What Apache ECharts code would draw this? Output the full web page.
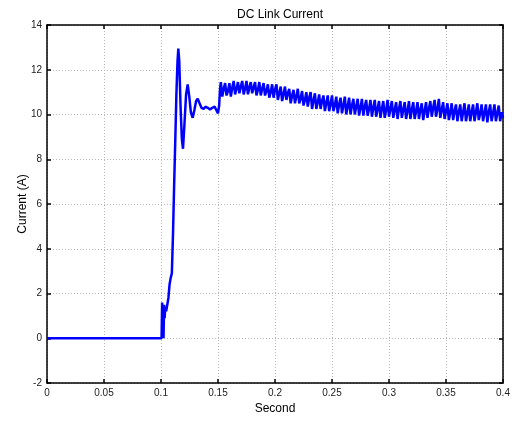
<!DOCTYPE html>
<html>
<head>
<meta charset="utf-8">
<script src="https://cdn.jsdelivr.net/npm/echarts@6/dist/echarts.min.js"></script>
<style>
  html, body { margin: 0; padding: 0; background: #fff; }
  #chart { width: 513px; height: 422px; }
</style>
</head>
<body>
<div id="chart"></div>
<script>
// Start-up transient of the DC link current (time in s, current in A)
const transientTime = [
  0, 0.1005, 0.1010, 0.1014, 0.1018, 0.1022, 0.1027, 0.1032, 0.1037, 0.1045,
  0.1055, 0.1065, 0.1075, 0.1085, 0.1095, 0.1105, 0.1115, 0.1125, 0.1135, 0.1145,
  0.1152, 0.1160, 0.1172, 0.1183, 0.1193, 0.1205, 0.1220, 0.1234, 0.1248, 0.1262,
  0.1278, 0.1293, 0.1308, 0.1322, 0.1338, 0.1355, 0.1374, 0.1390, 0.1410, 0.1430,
  0.1450, 0.1470, 0.1485, 0.1500, 0.1510, 0.1518
];
const transientCurrent = [
  0, 0, 1.6, 0.2, 1.3, 0.0, 1.5, 0.9, 1.4, 1.2,
  1.5, 1.8, 2.4, 2.7, 2.9, 4.6, 6.8, 8.8, 10.9, 12.4,
  12.95, 12.4, 10.3, 8.9, 8.47, 9.5, 10.9, 11.34, 10.8, 10.1,
  9.85, 10.2, 10.6, 10.7, 10.5, 10.3, 10.25, 10.35, 10.3, 10.22,
  10.3, 10.35, 10.2, 10.05, 10.4, 11.15
];

// Steady operation with switching ripple, one row per 10 ms
const rippleTime = [
  0.15250, 0.15375, 0.15500, 0.15625, 0.15750, 0.15875, 0.16000, 0.16125,
  0.16250, 0.16375, 0.16500, 0.16625, 0.16750, 0.16875, 0.17000, 0.17125,
  0.17250, 0.17375, 0.17500, 0.17625, 0.17750, 0.17875, 0.18000, 0.18125,
  0.18250, 0.18375, 0.18500, 0.18625, 0.18750, 0.18875, 0.19000, 0.19125,
  0.19250, 0.19375, 0.19500, 0.19625, 0.19750, 0.19875, 0.20000, 0.20125,
  0.20250, 0.20375, 0.20500, 0.20625, 0.20750, 0.20875, 0.21000, 0.21125,
  0.21250, 0.21375, 0.21500, 0.21625, 0.21750, 0.21875, 0.22000, 0.22125,
  0.22250, 0.22375, 0.22500, 0.22625, 0.22750, 0.22875, 0.23000, 0.23125,
  0.23250, 0.23375, 0.23500, 0.23625, 0.23750, 0.23875, 0.24000, 0.24125,
  0.24250, 0.24375, 0.24500, 0.24625, 0.24750, 0.24875, 0.25000, 0.25125,
  0.25250, 0.25375, 0.25500, 0.25625, 0.25750, 0.25875, 0.26000, 0.26125,
  0.26250, 0.26375, 0.26500, 0.26625, 0.26750, 0.26875, 0.27000, 0.27125,
  0.27250, 0.27375, 0.27500, 0.27625, 0.27750, 0.27875, 0.28000, 0.28125,
  0.28250, 0.28375, 0.28500, 0.28625, 0.28750, 0.28875, 0.29000, 0.29125,
  0.29250, 0.29375, 0.29500, 0.29625, 0.29750, 0.29875, 0.30000, 0.30125,
  0.30250, 0.30375, 0.30500, 0.30625, 0.30750, 0.30875, 0.31000, 0.31125,
  0.31250, 0.31375, 0.31500, 0.31625, 0.31750, 0.31875, 0.32000, 0.32125,
  0.32250, 0.32375, 0.32500, 0.32625, 0.32750, 0.32875, 0.33000, 0.33125,
  0.33250, 0.33375, 0.33500, 0.33625, 0.33750, 0.33875, 0.34000, 0.34125,
  0.34250, 0.34375, 0.34500, 0.34625, 0.34750, 0.34875, 0.35000, 0.35125,
  0.35250, 0.35375, 0.35500, 0.35625, 0.35750, 0.35875, 0.36000, 0.36125,
  0.36250, 0.36375, 0.36500, 0.36625, 0.36750, 0.36875, 0.37000, 0.37125,
  0.37250, 0.37375, 0.37500, 0.37625, 0.37750, 0.37875, 0.38000, 0.38125,
  0.38250, 0.38375, 0.38500, 0.38625, 0.38750, 0.38875, 0.39000, 0.39125,
  0.39250, 0.39375, 0.39500, 0.39625, 0.39750, 0.39875, 0.40000
];
const rippleCurrent = [
  11.45, 10.80, 11.15, 11.40, 10.85, 11.05, 11.40, 10.80,
  11.20, 11.50, 10.90, 11.15, 11.45, 10.95, 11.25, 11.50,
  10.90, 11.15, 11.50, 10.90, 11.20, 11.45, 10.95, 11.20,
  11.45, 10.85, 11.10, 11.45, 10.85, 11.15, 11.40, 10.85,
  11.05, 11.35, 10.75, 11.00, 11.35, 10.75, 11.10, 11.35,
  10.65, 10.95, 11.25, 10.60, 10.90, 11.25, 10.65, 10.95,
  11.15, 10.50, 10.85, 11.10, 10.50, 10.80, 11.15, 10.50,
  10.70, 11.05, 10.40, 10.65, 11.00, 10.35, 10.75, 11.00,
  10.25, 10.60, 10.95, 10.25, 10.55, 10.90, 10.25, 10.60,
  10.85, 10.15, 10.50, 10.85, 10.15, 10.45, 10.85, 10.15,
  10.40, 10.80, 10.05, 10.45, 10.75, 10.05, 10.40, 10.80,
  10.00, 10.35, 10.75, 10.00, 10.40, 10.70, 10.00, 10.35,
  10.70, 9.95, 10.30, 10.70, 9.95, 10.35, 10.65, 9.95,
  10.25, 10.65, 9.90, 10.30, 10.65, 9.90, 10.25, 10.60,
  9.85, 10.25, 10.60, 9.85, 10.20, 10.65, 9.90, 10.25,
  10.60, 9.85, 10.20, 10.55, 9.80, 10.25, 10.60, 9.85,
  10.20, 10.55, 9.80, 10.15, 10.60, 9.80, 10.20, 10.55,
  9.80, 10.15, 10.55, 9.80, 10.20, 10.50, 9.75, 10.15,
  10.55, 9.85, 10.25, 10.60, 9.90, 10.30, 10.65, 9.90,
  10.25, 10.70, 9.85, 10.20, 10.55, 9.80, 10.15, 10.50,
  9.75, 10.10, 10.50, 9.75, 10.15, 10.45, 9.70, 10.10,
  10.45, 9.70, 10.10, 10.50, 9.70, 10.05, 10.45, 9.70,
  10.10, 10.45, 9.70, 10.10, 10.50, 9.75, 10.05, 10.45,
  9.70, 10.05, 10.45, 9.65, 10.10, 10.45, 9.70, 10.05,
  10.45, 9.70, 10.05, 10.40, 9.70, 10.10, 9.85
];

const xTickValues = [0, 0.05, 0.1, 0.15, 0.2, 0.25, 0.3, 0.35, 0.4];
const yTickValues = [-2, 0, 2, 4, 6, 8, 10, 12, 14];

const times = transientTime.concat(rippleTime);
const currents = transientCurrent.concat(rippleCurrent);
const seriesData = times.map((t, i) => [t, currents[i]]);

const FONT = 'Liberation Sans, Arial, sans-serif';
const chart = echarts.init(document.getElementById('chart'), null, { renderer: 'canvas' });

const boxLine = { show: true, onZero: false, lineStyle: { color: '#000', width: 1.5 } };
const innerTick = { show: true, inside: true, length: 4, lineStyle: { color: '#000', width: 1.5 } };
const dottedGrid = { show: true, lineStyle: { color: '#b8b8b8', type: [1, 2], width: 1 } };

chart.setOption({
  animation: false,
  backgroundColor: '#fff',
  title: {
    text: 'DC Link Current',
    left: 275, top: 4, textAlign: 'center',
    textStyle: { fontFamily: FONT, fontSize: 12, fontWeight: 'normal', color: '#000' }
  },
  grid: { left: 47, right: 10, top: 25, bottom: 39, containLabel: false, outerBoundsMode: 'none' },
  xAxis: [
    {
      type: 'value', min: 0, max: 0.4, interval: 0.05,
      name: 'Second', nameLocation: 'middle', nameGap: 20, nameMoveOverlap: false,
      nameTextStyle: { fontFamily: FONT, fontSize: 12, color: '#000' },
      axisLine: boxLine, axisTick: innerTick, splitLine: dottedGrid,
      axisLabel: {
        fontFamily: FONT, fontSize: 10, color: '#222', margin: 5,
        formatter: v => xTickValues.find(t => Math.abs(t - v) < 1e-9) !== undefined ? String(+v.toFixed(2)) : ''
      }
    },
    {
      type: 'value', position: 'top', min: 0, max: 0.4, interval: 0.05,
      axisLine: boxLine, axisTick: innerTick, splitLine: { show: false },
      axisLabel: { show: false }
    }
  ],
  yAxis: [
    {
      type: 'value', min: -2, max: 14, interval: 2,
      name: 'Current (A)', nameLocation: 'middle', nameGap: 18, nameRotate: 90, nameMoveOverlap: false,
      nameTextStyle: { fontFamily: FONT, fontSize: 12, color: '#000' },
      axisLine: boxLine, axisTick: innerTick, splitLine: dottedGrid,
      axisLabel: {
        fontFamily: FONT, fontSize: 10, color: '#222', margin: 5,
        formatter: v => yTickValues.includes(v) ? String(v) : ''
      }
    },
    {
      type: 'value', position: 'right', min: -2, max: 14, interval: 2,
      axisLine: boxLine, axisTick: innerTick, splitLine: { show: false },
      axisLabel: { show: false }
    }
  ],
  series: [{
    type: 'line',
    data: seriesData,
    xAxisIndex: 0, yAxisIndex: 0,
    showSymbol: false,
    lineStyle: { color: '#0000ff', width: 2.5 },
    clip: true
  }]
});
</script>
</body>
</html>
